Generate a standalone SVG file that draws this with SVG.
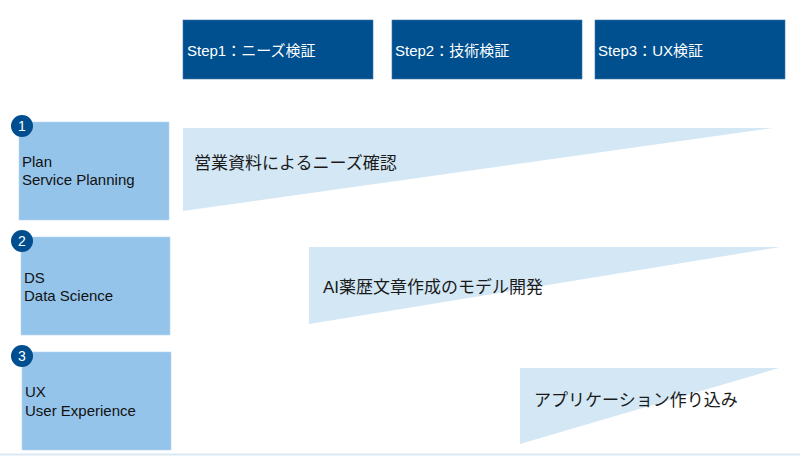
<svg xmlns="http://www.w3.org/2000/svg" width="800" height="456" viewBox="0 0 800 456">
<style>
.hdr{fill:#00508f;stroke:#3d77a8;stroke-width:0.6}
.ht{font-family:"Liberation Sans","Noto Sans CJK JP",sans-serif;font-size:15px;fill:#ffffff}
.lbox{fill:#95c4ea;stroke:#b7d6f0;stroke-width:0.6}
.lt{font-family:"Liberation Sans","Noto Sans CJK JP",sans-serif;font-size:15px;fill:#111111}
.num{fill:#004e8f}
.nt{font-family:"Liberation Sans",sans-serif;font-size:14px;fill:#ffffff;text-anchor:middle}
.tri{fill:#d3e7f5}
.tt{font-family:"Liberation Sans","Noto Sans CJK JP",sans-serif;font-size:17px;fill:#1a1a1a}
</style>
<rect width="800" height="456" fill="#ffffff"/>
<line x1="0" y1="454.5" x2="800" y2="454.5" stroke="#dce9f4" stroke-width="2"/>

<g id="step1"><rect class="hdr" x="183" y="20" width="190" height="59"/><text class="ht" x="187" y="56">Step1：ニーズ検証</text></g>
<g id="step2"><rect class="hdr" x="392" y="20" width="190" height="59"/><text class="ht" x="395" y="56">Step2：技術検証</text></g>
<g id="step3"><rect class="hdr" x="595" y="20" width="190" height="59"/><text class="ht" x="598" y="56">Step3：UX検証</text></g>

<g id="plan"><rect class="lbox" x="19" y="122" width="150" height="98"/><circle class="num" cx="22" cy="126" r="11"/><text class="nt" x="22" y="131">1</text><text class="lt" x="22" y="167">Plan</text><text class="lt" x="22" y="185">Service Planning</text></g>
<g id="ds"><rect class="lbox" x="21" y="237" width="149" height="98"/><circle class="num" cx="22" cy="241" r="11"/><text class="nt" x="22" y="246">2</text><text class="lt" x="24" y="283">DS</text><text class="lt" x="24" y="301">Data Science</text></g>
<g id="ux"><rect class="lbox" x="22" y="352" width="149" height="98"/><circle class="num" cx="22" cy="356" r="11"/><text class="nt" x="22" y="361">3</text><text class="lt" x="25" y="397">UX</text><text class="lt" x="25" y="416">User Experience</text></g>

<g id="task1"><polygon class="tri" points="183,128 773,128 183,211"/><text class="tt" x="194" y="169">営業資料によるニーズ確認</text></g>
<g id="task2"><polygon class="tri" points="309,247 780,247 309,324"/><text class="tt" x="323" y="293">AI薬歴文章作成のモデル開発</text></g>
<g id="task3"><polygon class="tri" points="520,368 779,368 520,444"/><text class="tt" x="534" y="406">アプリケーション作り込み</text></g>

<g id="connectors"></g>
</svg>
